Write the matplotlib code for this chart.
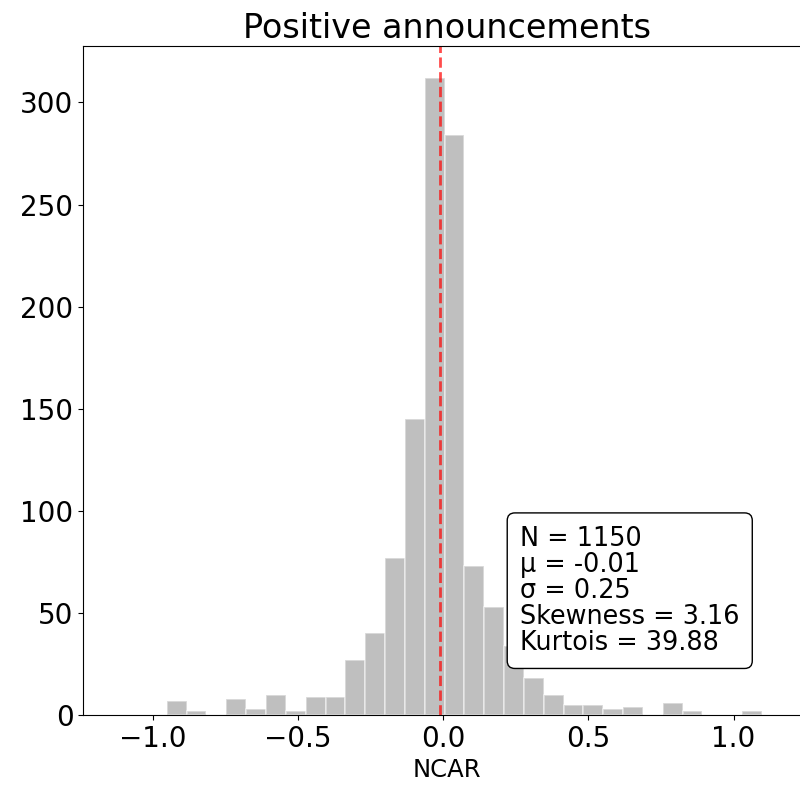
import matplotlib
matplotlib.use("Agg")
import matplotlib.pyplot as plt
import numpy as np

# histogram of NCAR, 30 equal bins between data min and max
ncar_min = -0.952
ncar_max = 1.098
counts = [7, 2, 0, 8, 3, 10, 2, 9, 9, 27,
          40, 77, 145, 312, 284, 73, 53, 34, 18, 10,
          5, 5, 3, 4, 0, 6, 2, 0, 0, 2]

n_obs = 1150
mu = -0.01
sigma = 0.25
skewness = 3.16
kurtosis = 39.88

edges = np.linspace(ncar_min, ncar_max, len(counts) + 1)
centers = 0.5 * (edges[:-1] + edges[1:])

fig = plt.figure(figsize=(8, 7.94), dpi=100)
ax = fig.add_axes([0.104, 0.0995, 0.91, 0.8425])

ax.hist(centers, bins=edges, weights=counts, color="gray", alpha=0.5,
        edgecolor="white", linewidth=1.2)
ax.axvline(mu, color="red", linestyle="--", linewidth=2, alpha=0.7)

ax.set_xlim(-1.24, 1.24 + 0.01 * 2.48 / 0.9)
ax.set_ylim(0, max(counts) * 1.05)
ax.set_xticks([-1.0, -0.5, 0.0, 0.5, 1.0])
ax.tick_params(labelsize=20)
ax.set_title("Positive announcements", fontsize=24)
ax.set_xlabel("NCAR", fontsize=17.5)

stats = (f"N = {n_obs}\n"
         f"\u03bc = {mu:.2f}\n"
         f"\u03c3 = {sigma:.2f}\n"
         f"Skewness = {skewness:.2f}\n"
         f"Kurtois = {kurtosis:.2f}")
ax.text(0.6, 0.283, stats, transform=ax.transAxes, fontsize=18.4,
        va="top", ha="left", linespacing=1.0,
        bbox=dict(boxstyle="round,pad=0.5,rounding_size=0.3",
                  facecolor="white", edgecolor="black"))

fig.savefig("out.png", dpi=100)
